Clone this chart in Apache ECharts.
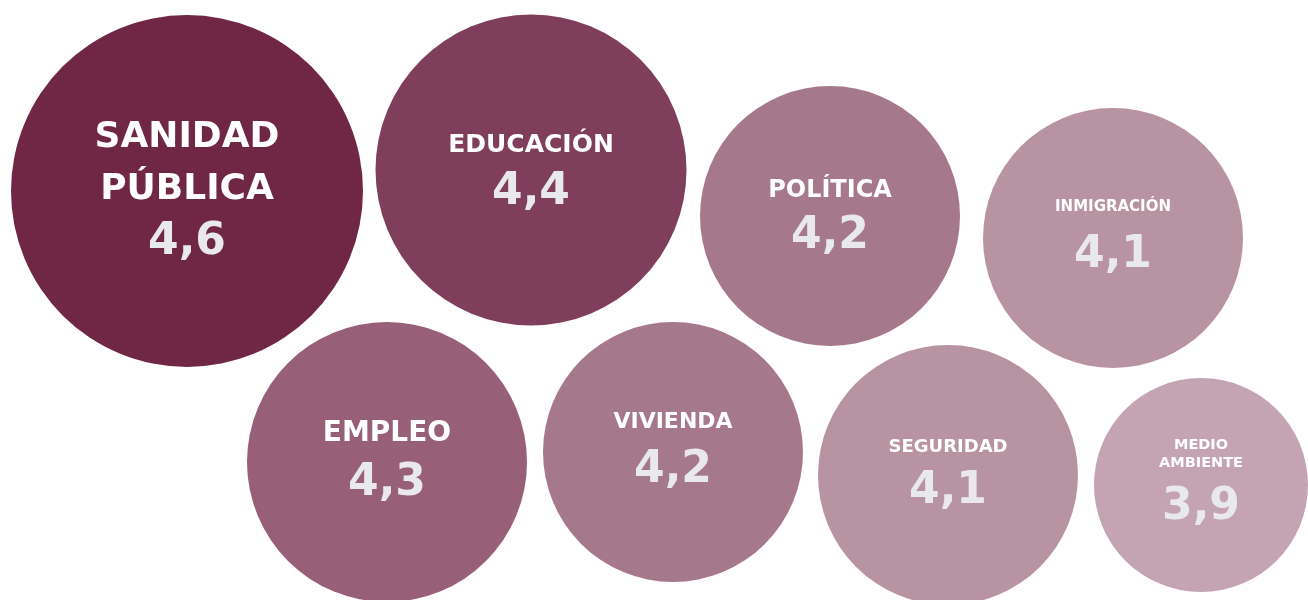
<!DOCTYPE html>
<html>
<head>
<meta charset="utf-8">
<script src="https://cdn.jsdelivr.net/npm/echarts@6/dist/echarts.min.js"></script>
<style>
html,body{margin:0;padding:0;background:#ffffff;}
#chart{width:1308px;height:600px;}
</style>
</head>
<body>
<div id="chart"></div>
<script>
// ---- data ----
var categories = ['SANIDAD\nPÚBLICA', 'EDUCACIÓN', 'POLÍTICA', 'INMIGRACIÓN', 'EMPLEO', 'VIVIENDA', 'SEGURIDAD', 'MEDIO\nAMBIENTE'];
var values = [4.6, 4.4, 4.2, 4.1, 4.3, 4.2, 4.1, 3.9];

// ---- layout (packed bubble centres, pixel space) ----
var layoutX = [187, 531, 830, 1113, 387, 673, 948, 1201];
var layoutY = [191, 170, 216, 238, 462, 452, 475, 485];

// ---- styles ----
var nameFont = [36, 25, 24, 15, 28, 22, 18, 14.5];
var nameLH = [52, 46, 42, 47, 50, 48, 40, 18];
var valueLH = [54, 50, 50, 50, 50, 50, 50, 72];
var labelShift = [0, 0, 0, -6, -3, -5, -3, 5];
var visualPieces = [
  {value: 4.6, color: '#6f2745', symbolSize: 352},
  {value: 4.4, color: '#7f3f5c', symbolSize: 311},
  {value: 4.3, color: '#975f78', symbolSize: 280},
  {value: 4.2, color: '#a5798b', symbolSize: 260},
  {value: 4.1, color: '#b893a2', symbolSize: 260},
  {value: 3.9, color: '#c4a3b2', symbolSize: 214}
];

var FONT = '"DejaVu Sans", sans-serif';
var rich = {};
for (var i = 0; i < categories.length; i++) {
  rich['n' + i] = {fontFamily: FONT, fontWeight: 'bold', fontSize: nameFont[i], lineHeight: nameLH[i], color: '#ffffff', align: 'center'};
  rich['v' + i] = {fontFamily: FONT, fontWeight: 'bold', fontSize: 44, lineHeight: valueLH[i], color: '#e9e9eb', align: 'center'};
}

var data = categories.map(function (c, i) {
  return {name: c, value: [layoutX[i], layoutY[i], values[i]], label: {offset: [0, labelShift[i]]}};
});

var chart = echarts.init(document.getElementById('chart'), null, {renderer: 'canvas'});
chart.setOption({
  animation: false,
  backgroundColor: '#ffffff',
  grid: {left: 0, right: 0, top: 0, bottom: 0},
  xAxis: {type: 'value', min: 0, max: 1308, show: false},
  yAxis: {type: 'value', min: 0, max: 600, inverse: true, show: false},
  visualMap: {
    type: 'piecewise', show: false, dimension: 2, seriesIndex: 0,
    pieces: visualPieces
  },
  series: [{
    type: 'scatter',
    clip: false,
    symbol: 'circle',
    data: data,
    itemStyle: {opacity: 1},
    label: {
      show: true,
      position: 'inside',
      align: 'center',
      verticalAlign: 'middle',
      formatter: function (p) {
        var i = p.dataIndex;
        var lines = categories[i].split('\n').map(function (s) { return '{n' + i + '|' + s + '}'; });
        return lines.join('\n') + '\n{v' + i + '|' + values[i].toFixed(1).replace('.', ',') + '}';
      },
      rich: rich
    },
    emphasis: {disabled: true}
  }]
});
</script>
</body>
</html>
